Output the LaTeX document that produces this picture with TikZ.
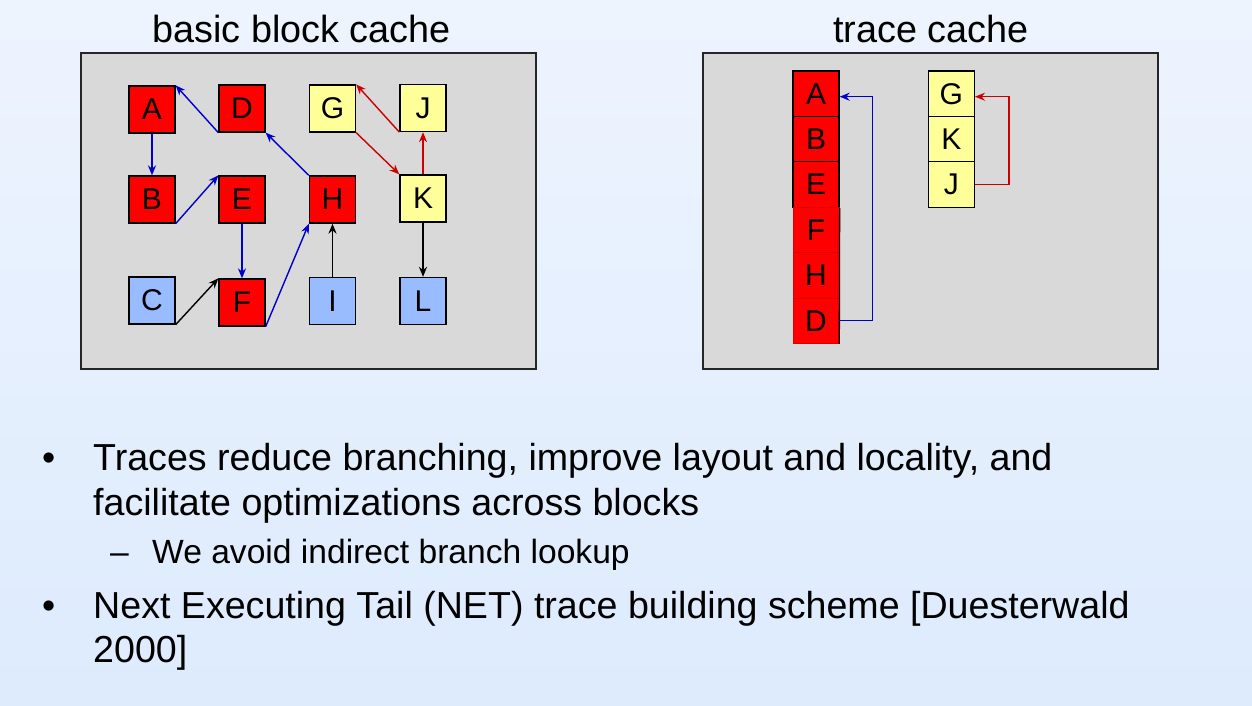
\documentclass[tikz,border=0pt]{standalone}
\usepackage{fontspec}
\setmainfont{Liberation Sans}
\usetikzlibrary{arrows.meta,calc}
\definecolor{bgtop}{HTML}{EEF4FE}
\definecolor{bgbot}{HTML}{DDEBFD}
\definecolor{boxgray}{HTML}{D9D9D9}
\definecolor{nred}{HTML}{FF0000}
\definecolor{nyellow}{HTML}{FFFF99}
\definecolor{nblue}{HTML}{99BBFF}
\definecolor{ablue}{HTML}{0000CC}
\definecolor{ared}{HTML}{CC0000}
\tikzset{
  cachebox/.style={draw=black!85, line width=1.6pt, fill=boxgray},
  blk/.style={draw=black, line width=1.3pt, minimum width=46pt, minimum height=47pt, inner sep=0pt, font=\fontsize{30}{32}\selectfont},
  redblk/.style={blk, fill=nred},
  yelblk/.style={blk, fill=nyellow},
  blublk/.style={blk, fill=nblue},
  cell/.style={minimum width=46pt, minimum height=45.4pt, inner sep=0pt, font=\fontsize{30}{32}\selectfont},
  bedge/.style={draw=ablue, line width=1.4pt, -{Stealth[length=10pt,width=8pt]}},
  redge/.style={draw=ared, line width=1.4pt, -{Stealth[length=10pt,width=8pt]}},
  kedge/.style={draw=black, line width=1.4pt, -{Stealth[length=10pt,width=8pt]}},
  title/.style={anchor=base, font=\fontsize{37.8}{42}\selectfont},
  btext/.style={anchor=base west, inner sep=0pt, font=\fontsize{37.6}{42}\selectfont},
  stext/.style={anchor=base west, inner sep=0pt, font=\fontsize{33.6}{38}\selectfont},
}
\begin{document}
\begin{tikzpicture}[x=1pt,y=1pt]
\useasboundingbox (0,0) rectangle (1252,-705);
\shade[top color=bgtop, bottom color=bgbot] (0,0) rectangle (1252,-705);

% titles
\node[title] (t1) at (301.5,-42.7) {basic block cache};
\node[title] (t2) at (931,-42.7) {trace cache};

% boxes
\draw[cachebox] (81,-53) rectangle (536,-369);
\draw[cachebox] (703,-53) rectangle (1158,-369);

% basic block nodes
\node[redblk] (A) at (152,-109.5) {A};
\node[redblk] (D) at (242,-108.5) {D};
\node[yelblk] (G) at (332.5,-108.5) {G};
\node[yelblk] (J) at (423,-108) {J};
\node[redblk] (B) at (152,-199.5) {B};
\node[redblk] (E) at (242,-199.5) {E};
\node[redblk] (H) at (332.5,-199.5) {H};
\node[yelblk] (K) at (423,-198.5) {K};
\node[blublk] (C) at (152,-300.5) {C};
\node[redblk] (F) at (242,-302.5) {F};
\node[blublk] (I) at (332.5,-301) {I};
\node[blublk] (L) at (423,-301) {L};

% edges
\draw[bedge] (A.south) -- (B.north);
\draw[bedge] (B.south east) -- (E.north west);
\draw[bedge] (D.south west) -- (A.north east);
\draw[bedge] (H.north west) -- (D.south east);
\draw[bedge] (E.south) -- (F.north);
\draw[bedge] (F.south east) -- (H.south west);
\draw[kedge] (C.south east) -- (F.north west);
\draw[kedge] (I.north) -- (H.south);
\draw[kedge] (K.south) -- (L.north);
\draw[redge] (J.south west) -- (G.north east);
\draw[redge] (G.south east) -- (K.north west);
\draw[redge] (K.north) -- (J.south);

% trace cache stack 1
\node[cell, fill=nred, draw=black, line width=1.3pt] (A2) at (816,-93.7) {A};
\node[cell, fill=nred, draw=black, line width=1.3pt] (B2) at (816,-139.1) {B};
\node[cell, fill=nred, draw=black, line width=1.3pt] (E2) at (816,-184.5) {E};
\node[cell, fill=nred, draw=red!85!black, line width=0.6pt] (F2) at (816,-229.9) {F};
\node[cell, fill=nred, draw=red!85!black, line width=0.6pt] (H2) at (816,-275.3) {H};
\node[cell, fill=nred, draw=red!85!black, line width=0.6pt] (D2) at (816,-320.7) {D};
\draw[black, line width=1.3pt] (E2.south east) -- (D2.south east);

% trace cache stack 2
\node[cell, fill=nyellow, draw=black, line width=1.3pt] (G2) at (951.3,-93.7) {G};
\node[cell, fill=nyellow, draw=black, line width=1.3pt] (K2) at (951.3,-139.1) {K};
\node[cell, fill=nyellow, draw=black, line width=1.3pt] (J2) at (951.3,-184.5) {J};

% trace back edges
\draw[bedge] (D2.east) -- ++(33,0) |- ([yshift=-3pt]A2.east);
\draw[redge] (J2.east) -- ++(34,0) |- ([yshift=-3pt]G2.east);

% bullets
\node[btext] (b1) at (42,-470.7) {•};
\node[btext] (l1) at (93,-470.7) {Traces reduce branching, improve layout and locality, and};
\node[btext] (l2) at (93,-515) {facilitate optimizations across blocks};
\node[stext] (d1) at (110,-563.3) {–};
\node[stext] (l3) at (152,-563.3) {We avoid indirect branch lookup};
\node[btext] (b2) at (42,-618.3) {•};
\node[btext] (l4) at (93,-618.3) {Next Executing Tail (NET) trace building scheme [Duesterwald};
\node[btext] (l5) at (93,-662.3) {2000]};
\end{tikzpicture}
\end{document}
